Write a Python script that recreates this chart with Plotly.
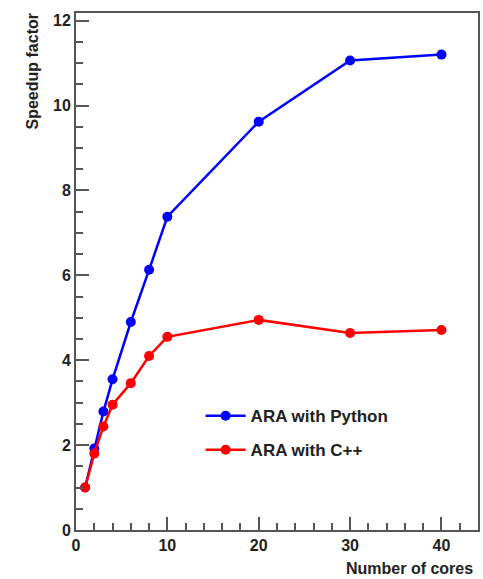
import plotly.graph_objects as go

cores = [1, 2, 3, 4, 6, 8, 10, 20, 30, 40]
speedup_python = [1.0, 1.92, 2.79, 3.55, 4.9, 6.13, 7.38, 9.62, 11.06, 11.2]
speedup_cpp = [1.0, 1.8, 2.44, 2.95, 3.46, 4.1, 4.55, 4.95, 4.64, 4.71]

font = "Liberation Sans, Arial, sans-serif"

fig = go.Figure()
fig.add_trace(go.Scatter(x=cores, y=speedup_python, mode="lines+markers",
                         name="ARA with Python", legendgroup="py",
                         line=dict(color="#0000ff", width=2.5),
                         marker=dict(color="#0000ff", size=10)))
fig.add_trace(go.Scatter(x=cores, y=speedup_cpp, mode="lines+markers",
                         name="ARA with C++", legendgroup="cpp",
                         line=dict(color="#ff0000", width=2.5),
                         marker=dict(color="#ff0000", size=10)))

axis_common = dict(showgrid=False, zeroline=False, showline=True, linecolor="#555555",
                   linewidth=2, mirror=True, ticks="inside", tickcolor="#555555",
                   tickwidth=1.5,
                   tickfont=dict(family=font, size=16, color="#222222", weight="bold"))

fig.update_xaxes(range=[0, 44], tickvals=[0, 10, 20, 30, 40], ticklen=13,
                 minor=dict(dtick=2, tick0=0, ticks="inside", ticklen=7,
                            tickcolor="#555555", tickwidth=1.5),
                 **axis_common)
fig.update_yaxes(range=[0, 12.18], tickvals=[0, 2, 4, 6, 8, 10, 12], ticklen=13,
                 minor=dict(dtick=0.5, tick0=0, ticks="inside", ticklen=7,
                            tickcolor="#555555", tickwidth=1.5),
                 **axis_common)

fig.add_annotation(text="Number of cores", xref="paper", yref="paper",
                   x=1.0, y=0, xanchor="right", yanchor="top", yshift=-28, xshift=-3,
                   showarrow=False,
                   font=dict(family=font, size=16, color="#222222", weight="bold"))
fig.add_annotation(text="Speedup factor", xref="paper", yref="paper",
                   x=0, y=1.0, xanchor="right", yanchor="top", xshift=-34, yshift=1,
                   textangle=-90, showarrow=False,
                   font=dict(family=font, size=16, color="#222222", weight="bold"))

fig.update_layout(
    width=483, height=579,
    margin=dict(l=76, r=3, t=13, b=49),
    paper_bgcolor="white", plot_bgcolor="white",
    showlegend=True,
    legend=dict(x=0.31, y=0.255, xanchor="left", yanchor="top",
                bgcolor="rgba(0,0,0,0)", borderwidth=0,
                font=dict(family=font, size=17, color="#222222", weight="bold"),
                itemwidth=40, tracegroupgap=9),
)

fig.write_html("out.html", config={"displayModeBar": False},
               post_script="document.body.style.margin='0';document.body.style.padding='0';")
